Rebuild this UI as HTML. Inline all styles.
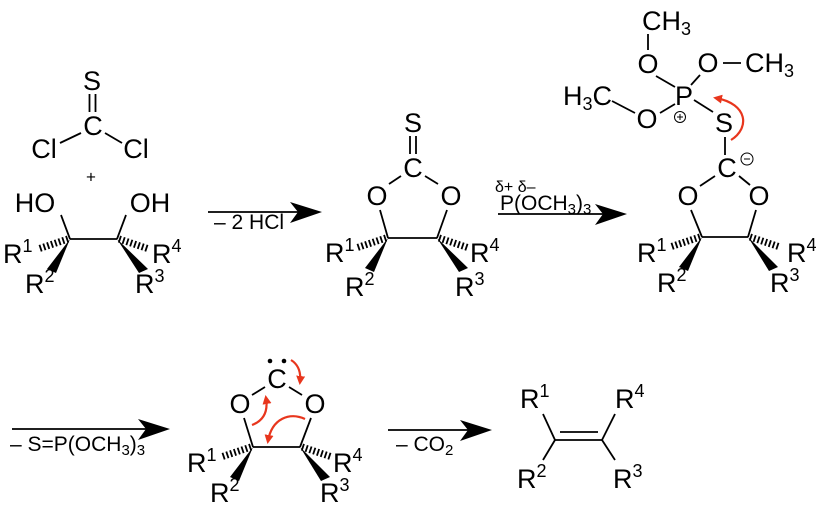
<!DOCTYPE html>
<html><head><meta charset="utf-8"><style>
html,body{margin:0;padding:0;background:#fff;}
svg{display:block;}
</style></head><body>
<svg width="817" height="512" viewBox="0 0 817 512" xmlns="http://www.w3.org/2000/svg" font-family="Liberation Sans, Arial, sans-serif" font-size="27">
<defs>
<marker id="rh" markerWidth="9" markerHeight="9" refX="6" refY="4.5" orient="auto" markerUnits="userSpaceOnUse"><path d="M0,0 L9,4.5 L0,9 Z" fill="#e8361d"/></marker>
</defs>
<g stroke="#000" stroke-width="1.8" fill="none">
<line x1="89.5" y1="94" x2="89.5" y2="112"/><line x1="95.5" y1="94" x2="95.5" y2="112"/>
<line x1="81" y1="133" x2="60" y2="143"/><line x1="105" y1="133" x2="122" y2="143"/>
<line x1="61" y1="215" x2="70" y2="239"/><line x1="126" y1="215" x2="117" y2="239"/>
<line x1="70" y1="239" x2="117" y2="239"/>
<line x1="208" y1="212" x2="300" y2="212"/>
<line x1="410" y1="136" x2="410" y2="154"/><line x1="416" y1="136" x2="416" y2="154"/>
<line x1="401" y1="176" x2="389" y2="184"/><line x1="425" y1="176" x2="438" y2="184"/>
<line x1="380" y1="210" x2="388" y2="238"/><line x1="447" y1="210" x2="437" y2="238"/>
<line x1="388" y1="238" x2="437" y2="238"/>
<line x1="498" y1="214" x2="605" y2="214"/>
<line x1="648" y1="34" x2="648" y2="50"/>
<line x1="723" y1="63" x2="741" y2="63"/>
<line x1="656" y1="76" x2="675" y2="87"/><line x1="700" y1="75" x2="691" y2="85"/>
<line x1="612" y1="101" x2="635" y2="113"/>
<line x1="660" y1="113" x2="675" y2="104"/>
<line x1="694" y1="100" x2="713" y2="112"/>
<line x1="725" y1="137" x2="725" y2="155"/>
<line x1="715" y1="176" x2="700" y2="186"/><line x1="739" y1="176" x2="750" y2="185"/>
<line x1="691" y1="210" x2="702" y2="237"/><line x1="756" y1="210" x2="748" y2="237"/>
<line x1="702" y1="237" x2="748" y2="237"/>
<circle cx="680" cy="117" r="5.5" stroke-width="1"/>
<line x1="677" y1="117" x2="683" y2="117" stroke-width="1"/><line x1="680" y1="114" x2="680" y2="120" stroke-width="1"/>
<circle cx="747" cy="159" r="6" stroke-width="1"/>
<line x1="744" y1="159" x2="750" y2="159" stroke-width="1"/>
<line x1="12" y1="429" x2="150" y2="429"/>
<line x1="265" y1="387" x2="252" y2="395"/><line x1="289" y1="387" x2="302" y2="395"/>
<line x1="244" y1="418" x2="253" y2="447"/><line x1="311" y1="418" x2="300" y2="447"/>
<line x1="253" y1="447" x2="300" y2="447"/>
<line x1="388" y1="430" x2="470" y2="430"/>
<line x1="555" y1="440" x2="602" y2="440"/>
<line x1="560" y1="432" x2="598" y2="432"/>
<line x1="555" y1="440" x2="543" y2="414"/><line x1="555" y1="440" x2="543" y2="460"/>
<line x1="602" y1="440" x2="615" y2="414"/><line x1="602" y1="440" x2="615" y2="460"/>
</g>
<g stroke="#000" stroke-width="7" stroke-dasharray="1.8 2.2">
<line x1="68" y1="239" x2="38" y2="249"/><line x1="119" y1="239" x2="149" y2="249"/>
<line x1="386" y1="238" x2="356" y2="248"/><line x1="439" y1="238" x2="469" y2="248"/>
<line x1="700" y1="237" x2="670" y2="247"/><line x1="750" y1="237" x2="780" y2="247"/>
<line x1="251" y1="447" x2="221" y2="457"/><line x1="302" y1="447" x2="332" y2="457"/>
</g>
<g fill="#000">
<polygon points="70,239 47,269 56,273"/><polygon points="117,239 139,273 148,269"/>
<polygon points="388,238 365,268 374,272"/><polygon points="437,238 459,272 468,268"/>
<polygon points="702,237 679,267 688,271"/><polygon points="748,237 769,271 778,267"/>
<polygon points="253,447 230,477 239,481"/><polygon points="300,447 321,481 330,477"/>
<polygon points="322,212 290,202 298,212 290,223"/>
<polygon points="627,214 595,204 603,214 595,225"/>
<polygon points="170,429 138,419 146,429 138,440"/>
<polygon points="492,430 460,420 468,430 460,441"/>
<circle cx="270" cy="361" r="2.3"/><circle cx="284" cy="361" r="2.3"/>
</g>
<g fill="#000" text-anchor="middle" dominant-baseline="central" font-size="27">
<text x="92" y="81">S</text><text x="93" y="126">C</text>
<text x="44" y="149">Cl</text><text x="136" y="149">Cl</text>
<text x="91" y="177" font-size="17">+</text>
<text x="35" y="203">HO</text><text x="150" y="203">OH</text>
<text x="413" y="123">S</text><text x="413" y="168">C</text>
<text x="377" y="196">O</text><text x="451" y="196">O</text>
<text x="648" y="64">O</text><text x="708" y="63">O</text>
<text x="684" y="96">P</text><text x="647" y="119">O</text>
<text x="724" y="123">S</text><text x="727" y="168">C</text>
<text x="688" y="196">O</text><text x="759" y="196">O</text>
<text x="277" y="379">C</text>
<text x="240" y="404">O</text><text x="315" y="404">O</text>
</g>
<g fill="#000" font-size="27">
<text x="642" y="30">CH<tspan font-size="18" dy="5">3</tspan></text>
<text x="745" y="72">CH<tspan font-size="18" dy="5">3</tspan></text>
<text x="563" y="105">H<tspan font-size="18" dy="5">3</tspan><tspan dy="-5">C</tspan></text>

<text x="3" y="263">R<tspan font-size="18" dy="-11">1</tspan></text>
<text x="152" y="263">R<tspan font-size="18" dy="-11">4</tspan></text>
<text x="25" y="293">R<tspan font-size="18" dy="-11">2</tspan></text>
<text x="135" y="293">R<tspan font-size="18" dy="-11">3</tspan></text>

<text x="325" y="262">R<tspan font-size="18" dy="-11">1</tspan></text>
<text x="470" y="262">R<tspan font-size="18" dy="-11">4</tspan></text>
<text x="345" y="296">R<tspan font-size="18" dy="-11">2</tspan></text>
<text x="455" y="296">R<tspan font-size="18" dy="-11">3</tspan></text>

<text x="637" y="262">R<tspan font-size="18" dy="-11">1</tspan></text>
<text x="787" y="262">R<tspan font-size="18" dy="-11">4</tspan></text>
<text x="657" y="292">R<tspan font-size="18" dy="-11">2</tspan></text>
<text x="770" y="292">R<tspan font-size="18" dy="-11">3</tspan></text>

<text x="187" y="472">R<tspan font-size="18" dy="-11">1</tspan></text>
<text x="333" y="472">R<tspan font-size="18" dy="-11">4</tspan></text>
<text x="210" y="502">R<tspan font-size="18" dy="-11">2</tspan></text>
<text x="320" y="502">R<tspan font-size="18" dy="-11">3</tspan></text>

<text x="520" y="408">R<tspan font-size="18" dy="-11">1</tspan></text>
<text x="615" y="408">R<tspan font-size="18" dy="-11">4</tspan></text>
<text x="517" y="488">R<tspan font-size="18" dy="-11">2</tspan></text>
<text x="613" y="488">R<tspan font-size="18" dy="-11">3</tspan></text>

<text x="214" y="229" font-size="21">– 2 HCl</text>
<text x="495" y="192" font-size="16">δ+ δ–</text>
<text x="500" y="210" font-size="21">P(OCH<tspan font-size="15" dy="4">3</tspan><tspan dy="-4">)</tspan><tspan font-size="15" dy="4">3</tspan></text>
<text x="10" y="451" font-size="21">– S=P(OCH<tspan font-size="15" dy="4">3</tspan><tspan dy="-4">)</tspan><tspan font-size="15" dy="4">3</tspan></text>
<text x="396" y="451" font-size="21">– CO<tspan font-size="15" dy="4">2</tspan></text>
</g>
<g stroke="#e8361d" stroke-width="2.2" fill="none">
<path d="M731,140 C750,128 748,104 716,98" marker-end="url(#rh)"/>
<path d="M291,360 C299,365 301,373 300,382" marker-end="url(#rh)"/>
<path d="M252,425 C265,420 268,410 266,398" marker-end="url(#rh)"/>
<path d="M305,419 C290,412 272,418 268,441" marker-end="url(#rh)"/>
</g>
</svg>
</body></html>
